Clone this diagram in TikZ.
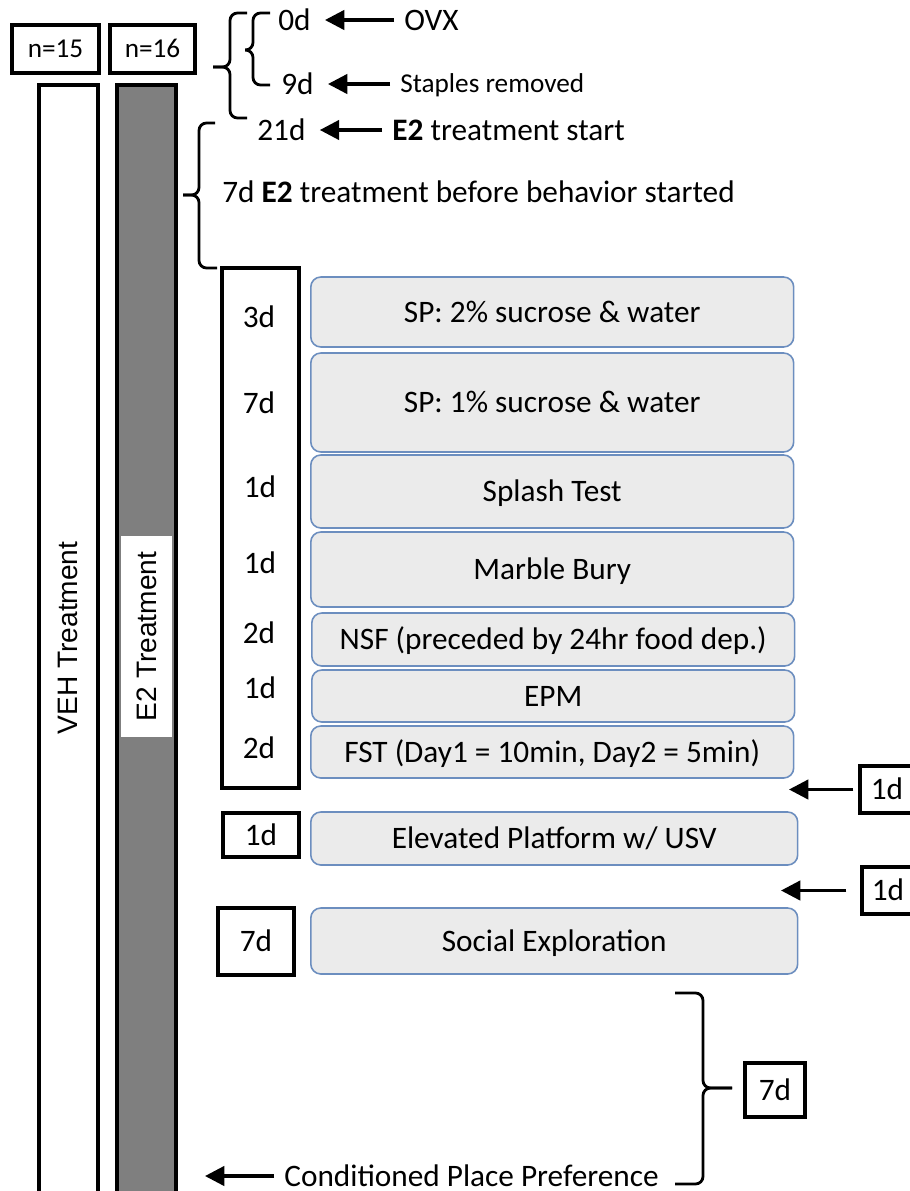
\documentclass[tikz,border=0pt]{standalone}
\usepackage{fontspec}
\setmainfont{Carlito}
\newfontfamily\barfont{Liberation Sans}
\usepackage{tikz}
\usetikzlibrary{calc,positioning,arrows.meta}

\definecolor{taskfill}{HTML}{EBEBEB}
\definecolor{taskline}{HTML}{6C8EBF}
\definecolor{bargray}{HTML}{7F7F7F}

\tikzset{
	lbl/.style={font=\fontsize{17.8}{21}\selectfont,inner sep=0pt,text height=11.5pt,text depth=0pt},
	sml/.style={font=\fontsize{15.5}{18}\selectfont,inner sep=0pt,text height=10pt,text depth=0pt},
	daybox/.style={lbl,draw,line width=1.8pt},
	task/.style={lbl,draw=taskline,fill=taskfill,line width=0.9pt,rounded corners=0.2cm,anchor=west,minimum width=9.66cm},
	brk/.style={line width=1.6pt,rounded corners=0.15cm},
	arr/.style={line width=1.9pt,-{Triangle[length=11pt,width=11pt]},shorten >=0.28cm,shorten <=0.2cm},
	barlbl/.style={font=\barfont\fontsize{16}{19}\selectfont,rotate=90,inner sep=0pt}
}

\begin{document}
\begin{tikzpicture}[x=0.02cm,y=-0.02cm]
	\useasboundingbox (0,0) rectangle (910,1191);

	% group sizes and treatment bars
	\node(n15) [daybox,font=\fontsize{15.5}{18}\selectfont,text height=10pt,minimum width=1.74cm,minimum height=0.96cm] at (55.5,49) {n=15};
	\node(n16) [daybox,font=\fontsize{15.5}{18}\selectfont,text height=10pt,minimum width=1.70cm,minimum height=0.96cm] at (152.5,49) {n=16};
	\draw[line width=1.8pt] (39,85) rectangle (98,1200);
	\draw[line width=1.8pt,fill=bargray] (117,85) rectangle (176,1200);
	\node(veh) [barlbl] at (68,638) {VEH Treatment};
	\node(e2) [barlbl,fill=white,minimum width=4.02cm,minimum height=1.02cm] at (146.5,636.5) {E2 Treatment};

	% surgery and start of treatment
	\node(d0) [lbl,anchor=west] at (278,20) {0d};
	\node(ovx) [lbl,anchor=west] at (404,20) {OVX};
	\node(d9) [lbl,anchor=west] at (281,84) {9d};
	\node(staples) [sml,anchor=west] at (400,84) {Staples removed};
	\node(d21) [lbl,anchor=west] at (257,130) {21d};
	\node(e2start) [lbl,anchor=west] at (392,130) {\textbf{E2} treatment start};
	\node(e2week) [lbl,anchor=west] at (222,192) {7d \textbf{E2} treatment before behavior started};
	\path[arr]
		(ovx) edge (d0)
		(staples) edge (d9)
		(e2start) edge (d21);

	\draw[brk] (245,50) -| (253,13) -- (270,13);
	\draw[brk] (245,50) -| (253,85) -- (270,85);
	\draw[brk] (213,67) -| (230,13) -- (247,13);
	\draw[brk] (213,67) -| (230,118) -- (247,118);
	\draw[brk] (183,195) -| (199,123) -- (215,123);
	\draw[brk] (183,195) -| (199,268) -- (217,268);

	% behaviour tests
	\node(days) [daybox,minimum width=1.54cm,minimum height=10.4cm] at (260.5,528) {};
	\node(sp2) [task,minimum height=1.4cm] at (310,312) {SP: 2\% sucrose \& water};
	\node(sp1) [task,minimum height=1.98cm] at (310,402.5) {SP: 1\% sucrose \& water};
	\node(splash) [task,minimum height=1.46cm] at (310,491.5) {Splash Test};
	\node(marble) [task,minimum height=1.5cm] at (310,569.5) {Marble Bury};
	\node(nsf) [task,minimum height=1.06cm] at (311,639.5) {NSF (preceded by 24hr food dep.)};
	\node(epm) [task,minimum height=1.04cm] at (311,696) {EPM};
	\node(fst) [task,minimum height=1.04cm] at (310,752) {FST (Day1 = 10min, Day2 = 5min)};
	\node(dsp2) [lbl] at (259,317) {3d};
	\node(dsp1) [lbl] at (259,403) {7d};
	\node(dsplash) [lbl] at (260,487) {1d};
	\node(dmarble) [lbl] at (260,563) {1d};
	\node(dnsf) [lbl] at (259,633) {2d};
	\node(depm) [lbl] at (260,688) {1d};
	\node(dfst) [lbl] at (259,748) {2d};

	\node(elev) [task,minimum width=9.74cm,minimum height=1.06cm] at (310,838.5) {Elevated Platform w/ USV};
	\node(delev) [daybox,minimum width=1.52cm,minimum height=0.88cm] at (261,835) {1d};
	\node(social) [task,minimum width=9.74cm,minimum height=1.32cm] at (310,941) {Social Exploration};
	\node(dsocial) [daybox,minimum width=1.52cm,minimum height=1.34cm] at (256,941.5) {7d};

	% rest days between tests
	\node(rest1) [daybox,minimum width=1.08cm,minimum height=0.94cm] at (887,789.5) {1d};
	\node(rest2) [daybox,minimum width=1.04cm,minimum height=0.94cm] at (888,890.5) {1d};
	\coordinate (gap1) at (789,789.5);
	\coordinate (gap2) at (781,890.5);
	\draw[arr,shorten >=0pt,shorten <=0.1cm] (rest1) -- (gap1);
	\draw[arr,shorten >=0pt,shorten <=0.28cm] (rest2) -- (gap2);

	% place preference
	\node(cpp) [lbl,anchor=west] at (284,1176) {Conditioned Place Preference};
	\coordinate (cppend) at (205,1176);
	\draw[arr,shorten >=0pt] (cpp) -- (cppend);
	\node(dcpp) [daybox,minimum width=1.2cm,minimum height=1.08cm] at (775,1090) {7d};
	\draw[brk] (732,1088) -| (703,993) -- (675,993);
	\draw[brk] (732,1088) -| (703,1184) -- (675,1184);
\end{tikzpicture}
\end{document}
